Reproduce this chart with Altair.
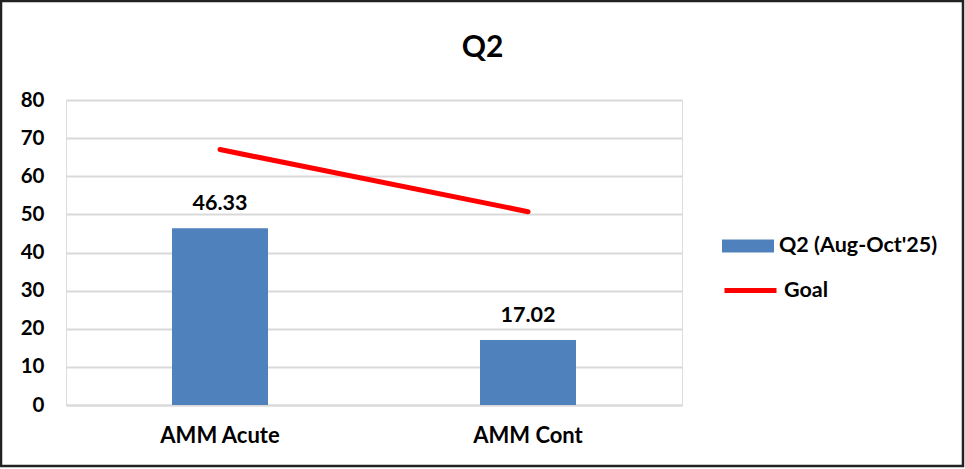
import altair as alt
import pandas as pd

# Chart values
categories = ["AMM Acute", "AMM Cont"]
q2_values = [46.33, 17.02]
goal_values = [67.0, 50.7]
bar_series_name = "Q2 (Aug-Oct'25)"
goal_series_name = "Goal"
y_ticks = [0, 10, 20, 30, 40, 50, 60, 70, 80]
chart_title = "Q2"

FONT = "Lato"
BLUE = "#4f81bd"
RED = "#ff0000"
GRID = "#d9d9d9"

W, H = 616, 305

df = pd.DataFrame({
    "measure": categories,
    "q2": q2_values,
    "goal": goal_values,
    "bar_series": [bar_series_name] * len(categories),
    "goal_series": [goal_series_name] * len(categories),
})

x_axis = alt.Axis(
    labelAngle=0, labelFont=FONT, labelFontSize=22, labelFontWeight="bold",
    labelColor="black", labelPadding=20, ticks=False, grid=False,
    domain=True, domainColor=GRID, domainWidth=2,
)
y_axis = alt.Axis(
    values=y_ticks, tickCount=9, labelOverlap=False, labelFont=FONT, labelFontSize=20.5,
    labelFontWeight="bold", labelColor="black", labelPadding=22, ticks=False,
    domain=False, grid=True, gridColor=GRID, gridWidth=2,
)
x_scale = alt.Scale(paddingInner=0.69, paddingOuter=0.345)
y_scale = alt.Scale(domain=[0, 80], nice=False)


def x_enc():
    return alt.X("measure:N", sort=categories, title=None, scale=x_scale, axis=x_axis)


def y_enc(field):
    return alt.Y(f"{field}:Q", scale=y_scale, title=None, axis=y_axis)


base = alt.Chart(df)

bars = base.mark_bar(size=96).encode(
    x=x_enc(),
    y=y_enc("q2"),
    fill=alt.Fill(
        "bar_series:N", title=None,
        scale=alt.Scale(domain=[bar_series_name], range=[BLUE]),
        legend=alt.Legend(
            orient="none", legendX=656, legendY=120, padding=0,
            symbolType="M-1,-0.25H1V0.25H-1Z", symbolSize=2704, symbolStrokeWidth=0,
            labelFont=FONT, labelFontSize=21.5, labelFontWeight="bold", labelColor="black",
            labelOffset=5,
        ),
    ),
)

goal_line = base.mark_line(strokeWidth=5, strokeCap="round").encode(
    x=x_enc(),
    y=y_enc("goal"),
    stroke=alt.Stroke(
        "goal_series:N", title=None,
        scale=alt.Scale(domain=[goal_series_name], range=[RED]),
        legend=alt.Legend(
            orient="none", legendX=656, legendY=162, padding=0,
            symbolType="stroke", symbolSize=2704, symbolStrokeWidth=5,
            labelFont=FONT, labelFontSize=21.5, labelFontWeight="bold", labelColor="black",
            labelOffset=5,
        ),
    ),
)

value_labels = base.mark_text(
    font=FONT, fontSize=21.5, fontWeight="bold", color="black",
    baseline="alphabetic", dy=-18,
).encode(
    x=x_enc(),
    y=y_enc("q2"),
    text=alt.Text("q2:Q", format=".2f"),
)

# Chart heading, centred over the whole canvas
heading = alt.Chart(alt.Data(values=[{"t": chart_title}])).mark_text(
    font=FONT, fontSize=30, fontWeight="bold", color="black",
    align="center", baseline="alphabetic",
).encode(
    x=alt.value(W / 2 + 108.5), y=alt.value(-43), text="t:N",
)

# Outer border around the whole chart
frame = alt.Chart(alt.Data(values=[{}])).mark_rect(
    fillOpacity=0, stroke="#222222", strokeWidth=2.5,
).encode(
    x=alt.value(-65), x2=alt.value(W + 281),
    y=alt.value(-99), y2=alt.value(H + 61),
)

chart = alt.layer(bars, goal_line, value_labels, heading, frame).properties(
    width=W,
    height=H,
    autosize=alt.AutoSizeParams(type="none"),
    padding={"left": 66, "top": 100, "right": 965 - 66 - W, "bottom": 469 - 100 - H},
).configure_view(stroke=None).configure(background="white")

chart.save("out.html", embed_options={"renderer": "svg", "actions": False})
